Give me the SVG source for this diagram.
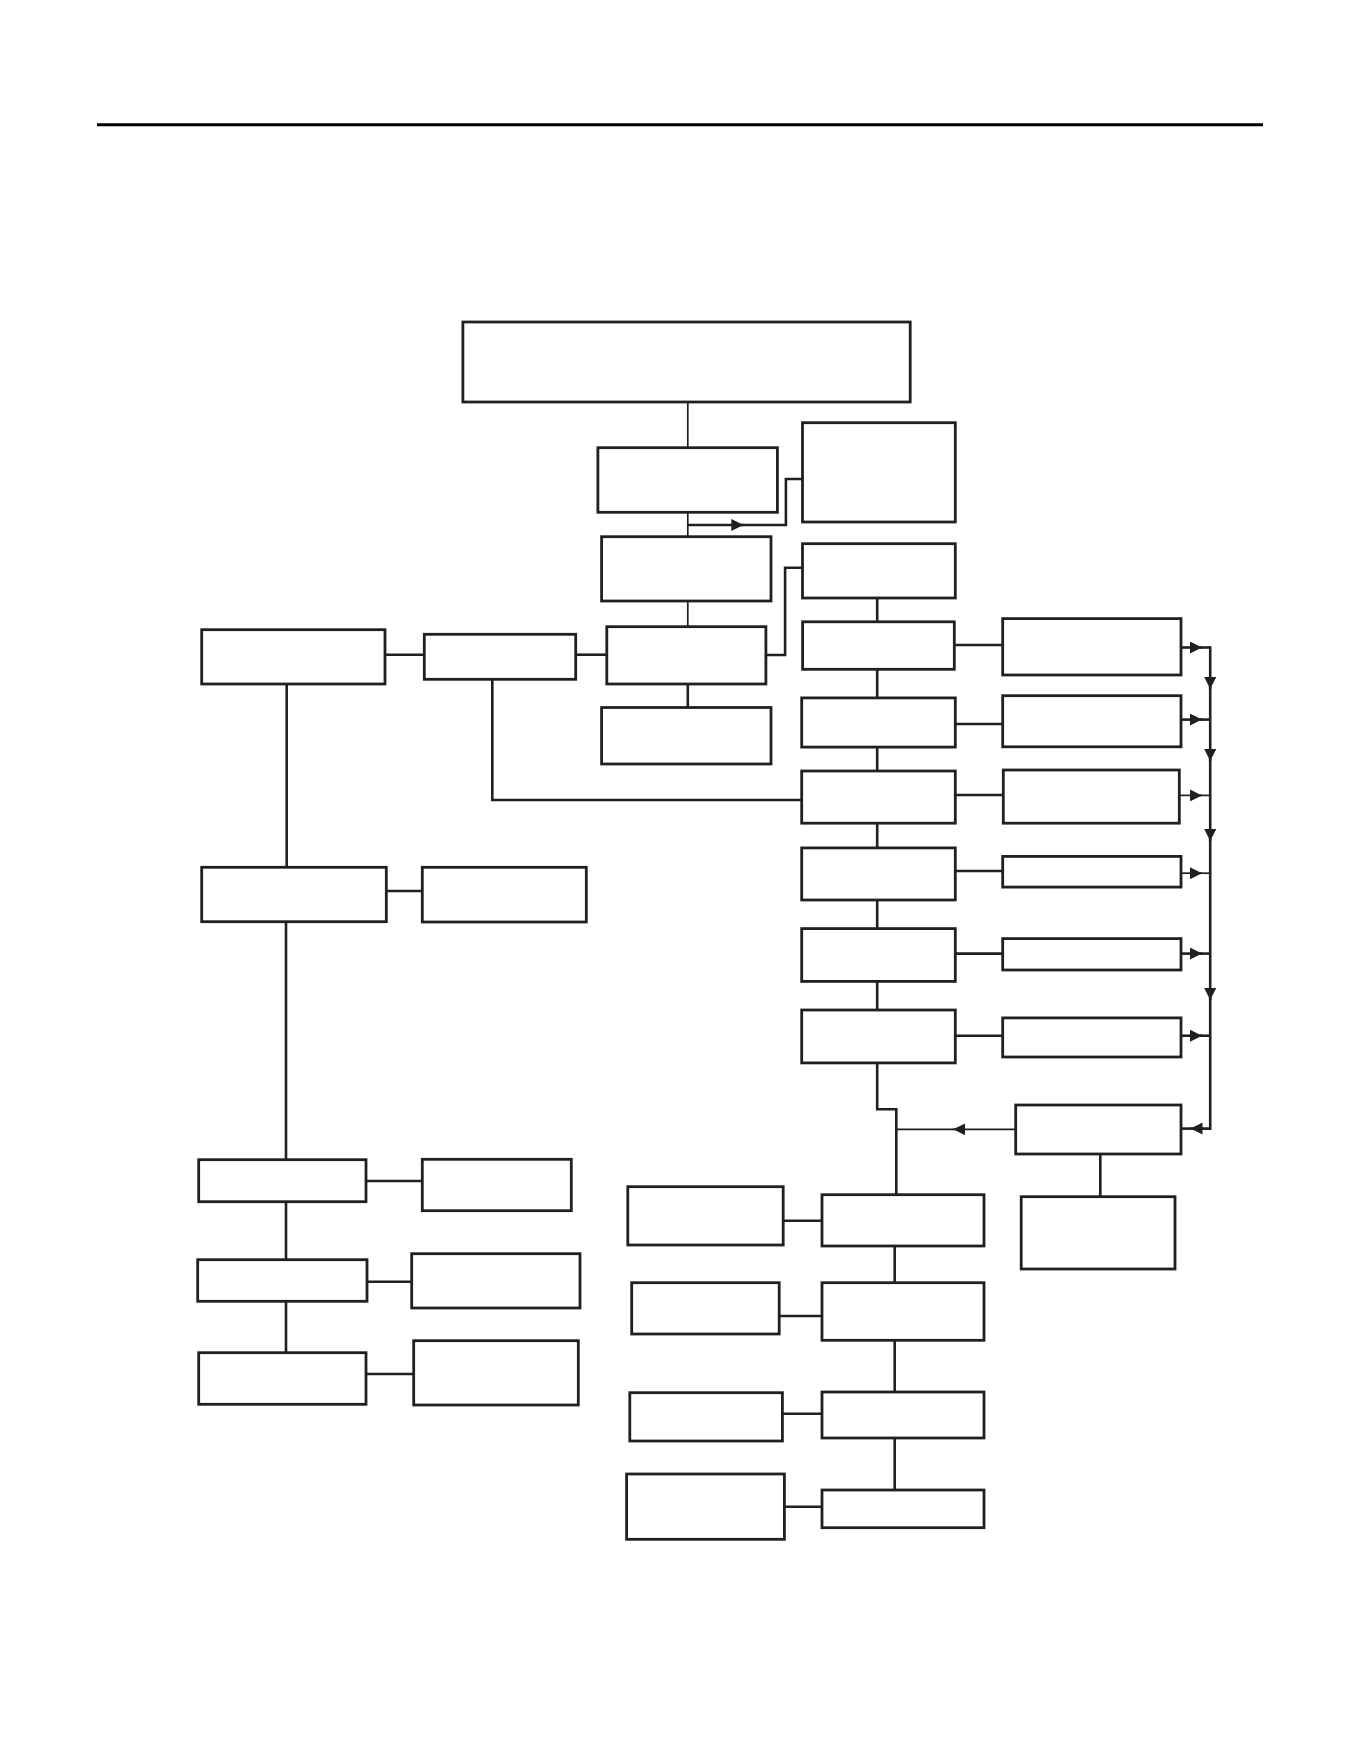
<svg xmlns="http://www.w3.org/2000/svg" width="1361" height="1761" viewBox="0 0 1361 1761">
<style>
.b{fill:#fff;stroke:#231f20;stroke-width:2.8}
.c{fill:none;stroke:#231f20;stroke-width:2.6}
.t{fill:none;stroke:#231f20;stroke-width:1.7}
</style>
<defs>
<marker id="ah" viewBox="0 0 10 10" refX="10" refY="5" markerUnits="userSpaceOnUse" markerWidth="12" markerHeight="12" orient="auto">
<path d="M0,0 L10,5 L0,10 z" fill="#231f20"/>
</marker>
</defs>
<rect width="1361" height="1761" fill="#fff"/>
<line x1="97" y1="124.7" x2="1263" y2="124.7" stroke="#000" stroke-width="3"/>

<g id="connectors">
<path class="t" d="M687.8,402 V448"/>
<path class="t" d="M687.8,512 V537"/>
<path class="c" d="M687.8,525 H743.3" marker-end="url(#ah)"/>
<path class="c" d="M741,525 H785.9 V479 H802.5"/>
<path class="t" d="M687.8,601 V627"/>
<path class="c" d="M765.9,655 H785.1 V567.7 H802.5"/>
<path class="c" d="M687.8,684 V707"/>
<path class="c" d="M385,654.7 H424.3"/>
<path class="c" d="M575.7,654.7 H606.8"/>
<path class="c" d="M492.3,679 V800 H801.7"/>
<path class="c" d="M877.2,598 V621.7"/>
<path class="c" d="M877.2,669 V698"/>
<path class="c" d="M877.2,747 V771"/>
<path class="c" d="M877.2,823 V848"/>
<path class="c" d="M877.2,900 V928.6"/>
<path class="c" d="M877.2,981 V1010"/>
<path class="c" d="M877.2,1063 V1109.3 H896.3 V1194.7"/>
<path class="c" d="M954.3,645 H1002.7"/>
<path class="c" d="M955.3,724 H1002.7"/>
<path class="c" d="M955.3,795 H1003.3"/>
<path class="c" d="M955.3,871 H1002.7"/>
<path class="c" d="M955.3,953.6 H1002.7"/>
<path class="c" d="M955.3,1035.7 H1002.7"/>
<path class="c" d="M1181,647.5 H1202" marker-end="url(#ah)"/>
<path class="c" d="M1200,647.5 H1210.2"/>
<path class="c" d="M1181,719.6 H1202" marker-end="url(#ah)"/>
<path class="c" d="M1200,719.6 H1210.2"/>
<path class="t" d="M1179.3,795.4 H1202" marker-end="url(#ah)"/>
<path class="t" d="M1200,795.4 H1210.2"/>
<path class="t" d="M1181,873.2 H1202" marker-end="url(#ah)"/>
<path class="t" d="M1200,873.2 H1210.2"/>
<path class="c" d="M1181,953.6 H1202" marker-end="url(#ah)"/>
<path class="c" d="M1200,953.6 H1210.2"/>
<path class="c" d="M1181,1035.7 H1202" marker-end="url(#ah)"/>
<path class="c" d="M1200,1035.7 H1210.2"/>
<path class="c" d="M1210.2,646.2 V689" marker-end="url(#ah)"/>
<path class="c" d="M1210.2,687 V761" marker-end="url(#ah)"/>
<path class="c" d="M1210.2,759 V841" marker-end="url(#ah)"/>
<path class="c" d="M1210.2,839 V1000" marker-end="url(#ah)"/>
<path class="c" d="M1210.2,998 V1128.6 H1190.5" marker-end="url(#ah)"/>
<path class="c" d="M1192,1128.6 H1181"/>
<path class="t" d="M1015.7,1129.3 H953.2" marker-end="url(#ah)"/>
<path class="t" d="M955,1129.3 H896.3"/>
<path class="c" d="M1100.3,1154 V1196.7"/>
<path class="c" d="M783.2,1220.7 H822"/>
<path class="c" d="M894.7,1246 V1282.7"/>
<path class="c" d="M779.2,1316 H822"/>
<path class="c" d="M894.7,1340.3 V1392"/>
<path class="c" d="M782.4,1413.7 H822"/>
<path class="c" d="M894.7,1438 V1490"/>
<path class="c" d="M784.4,1506.7 H822"/>
<path class="c" d="M286.7,684 V867.3"/>
<path class="c" d="M386.3,891 H422.3"/>
<path class="c" d="M286,921.7 V1159.7"/>
<path class="c" d="M366,1181 H422.3"/>
<path class="c" d="M286,1201.7 V1259.7"/>
<path class="c" d="M367,1281.7 H411.7"/>
<path class="c" d="M286,1301.3 V1352.7"/>
<path class="c" d="M366,1374 H413.7"/>
</g>

<g id="n-top"><rect class="b" x="462.9" y="322" width="447.3" height="80"/></g>
<g id="n-b2"><rect class="b" x="597.9" y="447.7" width="179.5" height="64.6"/></g>
<g id="n-r1"><rect class="b" x="802.5" y="422.7" width="152.8" height="99.3"/></g>
<g id="n-b3"><rect class="b" x="601.6" y="536.7" width="169.4" height="64.3"/></g>
<g id="n-r2"><rect class="b" x="802.5" y="543.7" width="152.8" height="54.3"/></g>
<g id="n-b4"><rect class="b" x="606.8" y="626.7" width="159.1" height="57.3"/></g>
<g id="n-b5"><rect class="b" x="601.6" y="707.5" width="169.4" height="56.5"/></g>
<g id="n-l1"><rect class="b" x="201.7" y="629.7" width="183.3" height="54.3"/></g>
<g id="n-m1"><rect class="b" x="424.3" y="634.3" width="151.4" height="45"/></g>
<g id="n-c1"><rect class="b" x="802.6" y="621.8" width="151.7" height="47.5"/></g>
<g id="n-c2"><rect class="b" x="801.7" y="697.9" width="153.6" height="49.2"/></g>
<g id="n-c3"><rect class="b" x="801.7" y="771" width="153.6" height="52.2"/></g>
<g id="n-c4"><rect class="b" x="801.7" y="847.9" width="153.6" height="52.1"/></g>
<g id="n-c5"><rect class="b" x="801.7" y="928.6" width="153.6" height="52.8"/></g>
<g id="n-c6"><rect class="b" x="801.7" y="1010" width="153.6" height="52.9"/></g>
<g id="n-d1"><rect class="b" x="1002.7" y="618.6" width="178.3" height="56.4"/></g>
<g id="n-d2"><rect class="b" x="1002.7" y="695.7" width="178.3" height="51.1"/></g>
<g id="n-d3"><rect class="b" x="1003.3" y="770" width="176" height="53.2"/></g>
<g id="n-d4"><rect class="b" x="1002.7" y="856.4" width="178.3" height="30.7"/></g>
<g id="n-d5"><rect class="b" x="1002.7" y="938.6" width="178.3" height="31.4"/></g>
<g id="n-d6"><rect class="b" x="1002.7" y="1017.9" width="178.3" height="39.1"/></g>
<g id="n-e"><rect class="b" x="1015.7" y="1105" width="165.3" height="49"/></g>
<g id="n-f"><rect class="b" x="1021.2" y="1196.7" width="153.8" height="72.3"/></g>
<g id="n-g1"><rect class="b" x="822" y="1194.7" width="162" height="51.3"/></g>
<g id="n-g1l"><rect class="b" x="627.8" y="1186.7" width="155.4" height="58.3"/></g>
<g id="n-g2"><rect class="b" x="822" y="1282.7" width="162" height="57.6"/></g>
<g id="n-g2l"><rect class="b" x="631.7" y="1282.7" width="147.5" height="51.3"/></g>
<g id="n-g3"><rect class="b" x="822" y="1392" width="162" height="46"/></g>
<g id="n-g3l"><rect class="b" x="629.8" y="1392.7" width="152.6" height="48.3"/></g>
<g id="n-g4"><rect class="b" x="822" y="1490" width="162" height="37.7"/></g>
<g id="n-g4l"><rect class="b" x="626.6" y="1474" width="157.8" height="65.3"/></g>
<g id="n-l2"><rect class="b" x="201.7" y="867.3" width="184.6" height="54.4"/></g>
<g id="n-l2r"><rect class="b" x="422.3" y="867.3" width="164" height="54.7"/></g>
<g id="n-l3"><rect class="b" x="198.7" y="1159.7" width="167.3" height="42"/></g>
<g id="n-l3r"><rect class="b" x="422.3" y="1159.3" width="149" height="51.4"/></g>
<g id="n-l4"><rect class="b" x="197.7" y="1259.7" width="169.3" height="41.6"/></g>
<g id="n-l4r"><rect class="b" x="411.7" y="1253.7" width="168.3" height="54.3"/></g>
<g id="n-l5"><rect class="b" x="198.7" y="1352.7" width="167.3" height="51.6"/></g>
<g id="n-l5r"><rect class="b" x="413.7" y="1340.7" width="164.6" height="64.3"/></g>
</svg>
